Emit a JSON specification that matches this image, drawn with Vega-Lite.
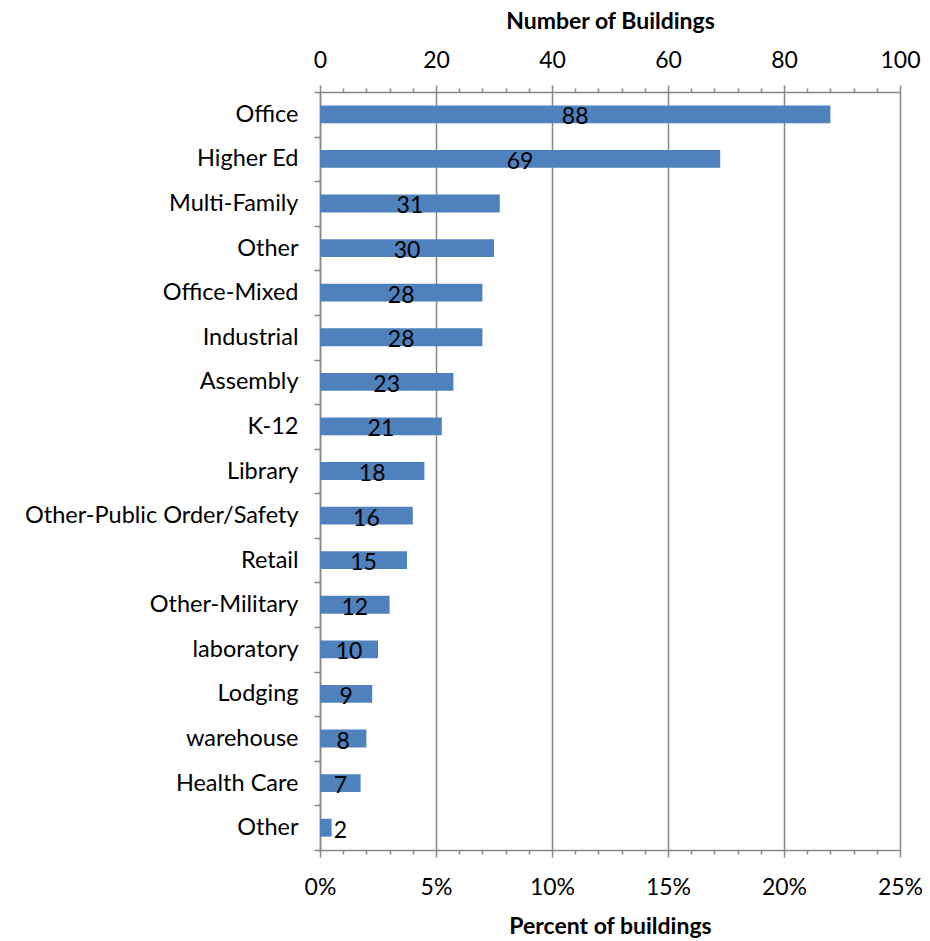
{
  "$schema": "https://vega.github.io/schema/vega-lite/v6.json",
  "width": 580,
  "height": 758,
  "autosize": {"type": "none"},
  "padding": {"left": 320, "top": 92, "right": 30, "bottom": 91},
  "config": {
    "view": {"stroke": null},
    "font": "Lato",
    "axis": {
      "labelFont": "Lato",
      "titleFont": "Lato",
      "labelColor": "#000000",
      "titleColor": "#000000",
      "domainColor": "#868686",
      "tickColor": "#868686",
      "gridColor": "#868686",
      "domainWidth": 1.5,
      "tickWidth": 1.5,
      "gridWidth": 1.5,
      "labelFontSize": 23,
      "titleFontSize": 23,
      "titleFontWeight": "bold",
      "labelLimit": 400
    }
  },
  "data": {
    "values": [
      {"cat": "Office", "count": 88},
      {"cat": "Higher Ed", "count": 69},
      {"cat": "Multi-Family", "count": 31},
      {"cat": "Other", "count": 30},
      {"cat": "Office-Mixed", "count": 28},
      {"cat": "Industrial", "count": 28},
      {"cat": "Assembly", "count": 23},
      {"cat": "K-12", "count": 21},
      {"cat": "Library", "count": 18},
      {"cat": "Other-Public Order/Safety", "count": 16},
      {"cat": "Retail", "count": 15},
      {"cat": "Other-Military", "count": 12},
      {"cat": "laboratory", "count": 10},
      {"cat": "Lodging", "count": 9},
      {"cat": "warehouse", "count": 8},
      {"cat": "Health Care", "count": 7},
      {"cat": "Other ", "count": 2}
    ]
  },
  "encoding": {
    "y": {
      "field": "cat",
      "type": "nominal",
      "sort": null,
      "scale": {"paddingInner": 0, "paddingOuter": 0},
      "axis": {
        "title": null,
        "labelExpr": "trim(datum.label)",
        "tickBand": "extent",
        "tickSize": 6,
        "labelPadding": 16,
        "labelFontSize": 23.5
      }
    }
  },
  "layer": [
    {
      "mark": {"type": "bar", "color": "#4F81BD", "height": {"band": 0.4}},
      "encoding": {
        "x": {
          "field": "count",
          "type": "quantitative",
          "scale": {"domain": [0, 100], "nice": false},
          "axis": {
            "orient": "top",
            "title": "Number of Buildings",
            "values": [0, 4, 8, 12, 16, 20, 24, 28, 32, 36, 40, 44, 48, 52, 56, 60, 64, 68, 72, 76, 80, 84, 88, 92, 96, 100],
            "labelExpr": "datum.value % 20 === 0 ? datum.label : ''",
            "tickSize": {"condition": {"test": "datum.value % 20 === 0", "value": 7}, "value": 4},
            "grid": true,
            "gridOpacity": {"condition": {"test": "datum.value % 20 === 0", "value": 1}, "value": 0},
            "labelPadding": 13,
            "labelFlush": false,
            "labelOverlap": false,
            "titlePadding": 16
          }
        }
      }
    },
    {
      "transform": [{"calculate": "max(datum.count / 2, 3.5)", "as": "mid"}],
      "mark": {"type": "text", "fontSize": 23, "dy": 3, "color": "#000000", "font": "Lato"},
      "encoding": {
        "x": {
          "field": "mid",
          "type": "quantitative",
          "scale": {"domain": [0, 100], "nice": false},
          "axis": {
            "orient": "bottom",
            "title": "Percent of buildings",
            "values": [0, 4, 8, 12, 16, 20, 24, 28, 32, 36, 40, 44, 48, 52, 56, 60, 64, 68, 72, 76, 80, 84, 88, 92, 96, 100],
            "labelExpr": "datum.value % 20 === 0 ? (datum.value / 4) + '%' : ''",
            "tickSize": {"condition": {"test": "datum.value % 20 === 0", "value": 7}, "value": 4},
            "grid": false,
            "labelPadding": 19,
            "labelFlush": false,
            "labelOverlap": false,
            "titlePadding": 16
          }
        },
        "text": {"field": "count", "type": "quantitative"}
      }
    }
  ],
  "resolve": {"scale": {"x": "independent"}}
}
